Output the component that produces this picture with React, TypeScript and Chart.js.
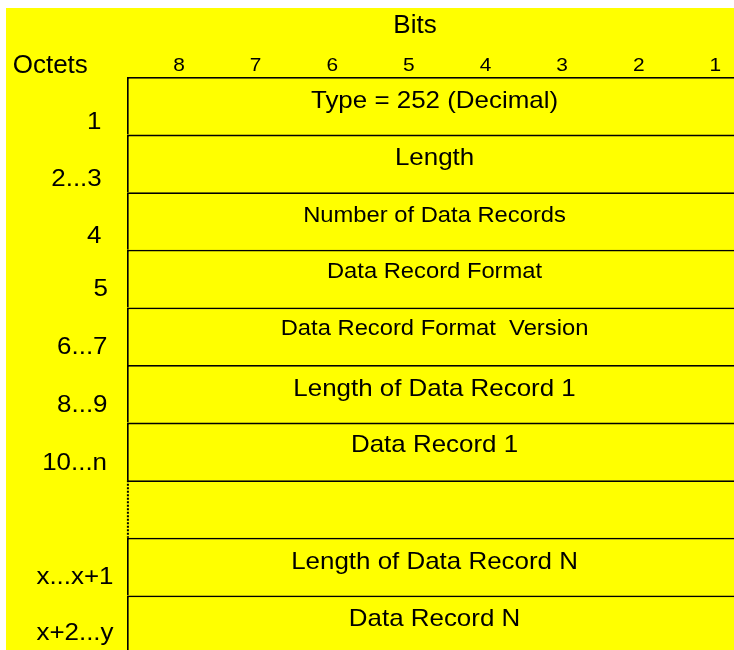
import React, { useEffect, useRef } from 'react';
import { Chart, registerables } from 'chart.js';

Chart.register(...registerables);

// ---------------- data ----------------
const octetLabels = ['1', '2...3', '4', '5', '6...7', '8...9', '10...n', '', 'x...x+1', 'x+2...y'];
const fieldNames = [
  'Type = 252 (Decimal)',
  'Length',
  'Number of Data Records',
  'Data Record Format',
  'Data Record Format  Version',
  'Length of Data Record 1',
  'Data Record 1',
  '',
  'Length of Data Record N',
  'Data Record N',
];
const bitLabels = [8, 7, 6, 5, 4, 3, 2, 1];
const bitsTitle = 'Bits';
const octetsTitle = 'Octets';
const elidedRows = [7]; // rows drawn with a dotted left edge

// ---------------- layout / style ----------------
const CANVAS_W = 728;
const CANVAS_H = 650;
const X_MIN = 0.756; // bit axis extent (reversed: bit 8 on the left)
const X_MAX = 8.679;
const PAD = { left: 121, top: 69, right: 0, bottom: 5 };
const TEXT_CENTER_BIT = 4.665;
const TITLE_CENTER_BIT = 4.92;
const FAMILY = '"Liberation Sans", Arial, Helvetica, sans-serif';
const HEADER_FONT = `26px ${FAMILY}`;
const BIG_FONT = `24px ${FAMILY}`;
const SMALL_FONT = `22px ${FAMILY}`;
const LABEL_FONT = `24px ${FAMILY}`;
const DIGIT_FONT = `19px ${FAMILY}`;
const STRETCH = 1.08;
const DIGIT_STRETCH = 1.1;
const smallFontRows = [2, 3, 4];
const fieldBaseline = [31, 30.1, 29.8, 28.2, 27.3, 31.4, 29.8, 0, 31.2, 30.3];
const labelBaseline = [51.7, 51.1, 50.8, 46.6, 46.6, 47.4, 47.1, 0, 45.9, 44.3];
const labelRight = [-25.5, -25.3, -25.7, -19, -19.5, -19.5, -20, 0, -13.5, -13.5];
const YELLOW = '#ffff00';
const INK = '#000000';
const EDGE_W = 1.8;

const textPlugin = {
  id: 'octetText',
  afterDraw(chart: any) {
    const { ctx, chartArea, scales } = chart;
    const xs = scales.x;
    const rows = scales.yRows;
    const draw = (text: string, px: number, py: number, font: string, align: CanvasTextAlign, sx: number) => {
      ctx.save();
      ctx.translate(px, py);
      ctx.scale(sx, 1);
      ctx.font = font;
      ctx.textAlign = align;
      ctx.textBaseline = 'alphabetic';
      ctx.fillStyle = INK;
      ctx.fillText(text, 0, 0);
      ctx.restore();
    };
    // dotted left edge of elided rows
    elidedRows.forEach((r) => {
      const px = xs.getPixelForValue(X_MAX) + EDGE_W / 2;
      ctx.save();
      ctx.strokeStyle = INK;
      ctx.lineWidth = 2;
      ctx.setLineDash([2, 1.5]);
      ctx.beginPath();
      ctx.moveTo(px, rows.getPixelForValue(r));
      ctx.lineTo(px, rows.getPixelForValue(r + 1));
      ctx.stroke();
      ctx.restore();
    });
    draw(bitsTitle, xs.getPixelForValue(TITLE_CENTER_BIT), chartArea.top - 44, HEADER_FONT, 'center', 1);
    draw(octetsTitle, chartArea.left - 114.3, chartArea.top - 3.8, HEADER_FONT, 'left', 1);
    bitLabels.forEach((b) =>
      draw(String(b), xs.getPixelForValue(b), chartArea.top - 6.3, DIGIT_FONT, 'center', DIGIT_STRETCH)
    );
    fieldNames.forEach((name, i) => {
      const top = rows.getPixelForValue(i);
      if (name) {
        draw(
          name,
          xs.getPixelForValue(TEXT_CENTER_BIT),
          top + fieldBaseline[i],
          smallFontRows.includes(i) ? SMALL_FONT : BIG_FONT,
          'center',
          STRETCH
        );
      }
      const lab = octetLabels[i];
      if (lab) draw(lab, chartArea.left + labelRight[i], top + labelBaseline[i], LABEL_FONT, 'right', STRETCH);
    });
  },
};

export default function App() {
  const canvasRef = useRef<HTMLCanvasElement | null>(null);

  useEffect(() => {
    if (!canvasRef.current) return;
    const chart = new Chart(canvasRef.current, {
      type: 'bar',
      data: {
        labels: octetLabels,
        datasets: [
          {
            label: 'Fields',
            xAxisID: 'x',
            yAxisID: 'y',
            data: fieldNames.map(() => [X_MIN, X_MAX]) as any,
            backgroundColor: YELLOW,
            borderColor: INK,
            borderSkipped: false,
            inflateAmount: 0,
            borderWidth: ((c: any) => ({
              top: EDGE_W,
              bottom: 0,
              right: 0,
              left: elidedRows.includes(c.dataIndex) ? 0 : EDGE_W,
            })) as any,
            categoryPercentage: 1,
            barPercentage: 1,
            clip: false as any,
          },
        ],
      },
      options: {
        indexAxis: 'y',
        animation: false,
        responsive: false,
        maintainAspectRatio: false,
        layout: { padding: PAD },
        plugins: { legend: { display: false }, tooltip: { enabled: false }, title: { display: false } },
        scales: {
          x: { type: 'linear', min: X_MIN, max: X_MAX, reverse: true, display: false },
          y: { type: 'category', offset: true, display: false },
          yRows: {
            type: 'linear',
            axis: 'y',
            min: 0,
            max: 10,
            reverse: true,
            offset: false,
            grid: { offset: false },
            display: false,
          },
        },
      } as any,
      plugins: [textPlugin],
    });
    return () => chart.destroy();
  }, []);

  return (
    <div
      style={{
        position: 'fixed',
        left: 6,
        top: 8,
        width: CANVAS_W,
        height: CANVAS_H,
        background: YELLOW,
      }}
    >
      <canvas
        ref={canvasRef}
        width={CANVAS_W}
        height={CANVAS_H}
        style={{ width: CANVAS_W, height: CANVAS_H, display: 'block' }}
      />
    </div>
  );
}
